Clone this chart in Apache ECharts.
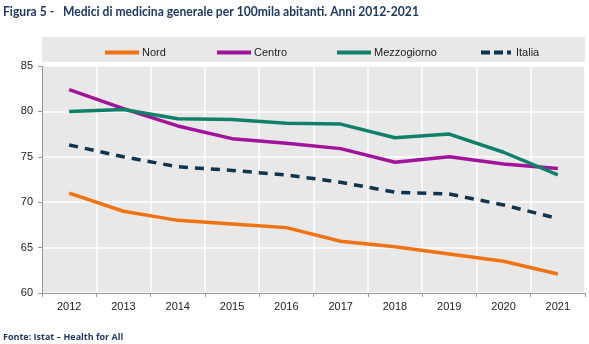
<!DOCTYPE html>
<html><head><meta charset="utf-8">
<script src="https://cdn.jsdelivr.net/npm/echarts@6/dist/echarts.min.js"></script>
<style>html,body{margin:0;padding:0;background:#fff}#c{width:589px;height:344px}</style>
</head><body><div id="c"></div>
<script>
const years = ['2012','2013','2014','2015','2016','2017','2018','2019','2020','2021'];
const nord = [71.0, 69.0, 68.0, 67.6, 67.2, 65.7, 65.1, 64.3, 63.5, 62.1];
const centro = [82.4, 80.3, 78.4, 77.0, 76.5, 75.9, 74.4, 75.0, 74.2, 73.7];
const mezzogiorno = [80.0, 80.2, 79.2, 79.1, 78.7, 78.6, 77.1, 77.5, 75.5, 73.0];
const italia = [76.3, 75.0, 73.9, 73.5, 73.0, 72.2, 71.1, 70.9, 69.7, 68.2];
const yTicks = [60, 65, 70, 75, 80, 85];
const seriesNames = ['Nord','Centro','Mezzogiorno','Italia'];

const chart = echarts.init(document.getElementById('c'), null, {renderer:'canvas'});
const font = '"Liberation Sans", Arial, sans-serif';
function line(name, data, color, type){
  return {name, type:'line', data, symbol:'none', smooth:false,
    lineStyle:{color, width:3.5, type: type||'solid'},
    itemStyle:{color}};
}
const solidIcon = 'path://M0,0h34v4h-34z';
const dashIcon = 'path://M0,0h9v4h-9z M13,0h9v4h-9z M26,0h4v4h-4z M30,0h0v4h0z';
const legendLefts = [100, 212, 332, 476];
const legends = seriesNames.map((n,i)=>({
  top:42, left:legendLefts[i], itemWidth:34, itemHeight:4, itemGap:4,
  icon: n==='Italia'? dashIcon : solidIcon,
  textStyle:{fontSize:11, color:'#222', fontFamily:font, padding:[0,0,0,-2]},
  data:[n]
}));
chart.setOption({
  animation:false,
  textStyle:{fontFamily:font},
  graphic:[
    {type:'text', x:3, y:4, scaleX:0.865, style:{text:'Figura 5 -   Medici di medicina generale per 100mila abitanti. Anni 2012-2021', font:'bold 14px Lato, sans-serif', fill:'#1f3864'}},
    {type:'rect', shape:{x:42, y:37, width:543, height:25}, style:{fill:'#e8e8e8'}, z:-1},
    {type:'text', left:3, top:333, style:{text:'Fonte: Istat \u2013 Health for All', font:'bold 9px "Open Sans", sans-serif', fill:'#1f3864'}}
  ],
  legend: legends,
  grid:{left:42, right:4, top:66, bottom:51, show:true, backgroundColor:'#e8e8e8', borderWidth:0},
  xAxis:{type:'category', data:years, boundaryGap:true,
    axisLine:{lineStyle:{color:'#999', width:1}},
    axisTick:{show:true, lineStyle:{color:'#999'}, length:4},
    axisLabel:{color:'#222', fontSize:11, margin:8},
    splitLine:{show:true, lineStyle:{color:'#fff', width:1.5}}},
  yAxis:{type:'value', min:60, max:85, interval:5,
    axisLine:{show:true, lineStyle:{color:'#999'}},
    axisTick:{show:true, lineStyle:{color:'#999'}, length:4},
    axisLabel:{color:'#222', fontSize:11, margin:9,
      formatter:v=> yTicks.includes(v)? String(v):''},
    splitLine:{show:true, lineStyle:{color:'#fff', width:1.5}}},
  series:[
    line('Nord', nord, '#f07312'),
    line('Centro', centro, '#a0139b'),
    line('Mezzogiorno', mezzogiorno, '#11806a'),
    line('Italia', italia, '#0d3550', [9,7])
  ]
});
</script></body></html>
